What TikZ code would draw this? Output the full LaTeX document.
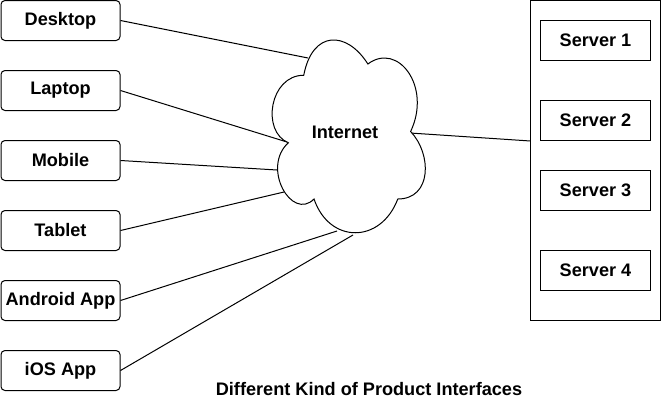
\documentclass[tikz,border=0pt]{standalone}
\usepackage{fontspec}
\setmainfont{Liberation Sans}
\usetikzlibrary{positioning}

\begin{document}
\begin{tikzpicture}[
  x=0.75pt, y=-0.75pt,
  font=\fontsize{13.6}{16}\selectfont\bfseries,
  line width=0.75pt,
  dev/.style={draw, rounded corners=3pt, minimum width=89.25pt, minimum height=30pt, inner sep=0pt},
  srv/.style={draw, minimum width=82.5pt, minimum height=30pt, inner sep=0pt},
  rack/.style={draw, minimum width=97.5pt, minimum height=240pt, inner sep=0pt},
  link/.style={draw, line width=0.75pt},
]
\useasboundingbox (0,0) rectangle (661,411);

% ---------- client devices ----------
\node[dev] (desktop) at (60.5,20.5) {Desktop};
\node[dev, below=21.75pt of desktop] (laptop) {Laptop};
\node[dev, below=21.75pt of laptop] (mobile) {Mobile};
\node[dev, below=21.75pt of mobile] (tablet) {Tablet};
\node[dev, below=21.75pt of tablet] (android) {Android App};
\node[dev, below=21.75pt of android] (ios) {iOS App};

% ---------- server farm ----------
\node[rack] (rack) at (595.5,160.5) {};
\node[srv] (srv1) at (595.5,40.5) {Server 1};
\node[srv, below=29.25pt of srv1] (srv2) {Server 2};
\node[srv, below=21.75pt of srv2] (srv3) {Server 3};
\node[srv, below=29.25pt of srv3] (srv4) {Server 4};

% ---------- cloud touch points ----------
\coordinate (c-desk) at (308,58);
\coordinate (c-lap) at (287,142);
\coordinate (c-mob) at (277,170);
\coordinate (c-tab) at (284,192);
\coordinate (c-and) at (337,231);
\coordinate (c-ios) at (353,235);
\coordinate (c-srv) at (410,133);
\coordinate (r-in) at (530.5,141);

\draw[link] (desktop.east) -- (c-desk);
\draw[link] (laptop.east) -- (c-lap);
\draw[link] (mobile.east) -- (c-mob);
\draw[link] (tablet.east) -- (c-tab);
\draw[link] (android.east) -- (c-and);
\draw[link] (ios.east) -- (c-ios);
\draw[link] (c-srv) -- (r-in);

% ---------- internet cloud ----------
\begin{scope}[shift={(261,19)}, x=128.25pt, y=-168.75pt]
\draw[fill=white] (0.25,0.25) .. controls (0.05,0.25) and (0,0.5) .. (0.16,0.55)
  .. controls (0,0.66) and (0.18,0.9) .. (0.31,0.8)
  .. controls (0.4,1) and (0.7,1) .. (0.8,0.8)
  .. controls (1,0.8) and (1,0.6) .. (0.875,0.5)
  .. controls (1,0.3) and (0.8,0.1) .. (0.625,0.2)
  .. controls (0.5,0.05) and (0.3,0.05) .. (0.25,0.25) -- cycle;
\end{scope}
\node (inet) at (345,132) {Internet};

\node (title) at (369,389) {Different Kind of Product Interfaces};
\end{tikzpicture}
\end{document}
